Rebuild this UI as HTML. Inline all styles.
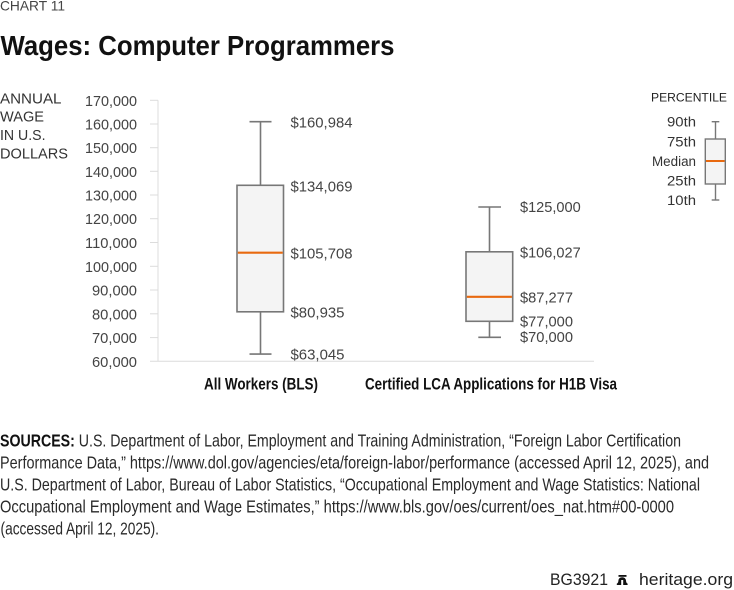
<!DOCTYPE html>
<html>
<head>
<meta charset="utf-8">
<style>
  html,body{margin:0;padding:0;background:#fff;}
  body{width:734px;height:590px;overflow:hidden;}
  svg{display:block;}
  text{font-family:"Liberation Sans",sans-serif;}
</style>
</head>
<body>
<svg width="734" height="590" viewBox="0 0 734 590" xmlns="http://www.w3.org/2000/svg">
  <!-- Header -->
  <text x="0" y="10.3" font-size="14" fill="#444" textLength="65" lengthAdjust="spacingAndGlyphs">CHART 11</text>
  <text x="0.5" y="55" font-size="27.5" font-weight="bold" fill="#111" textLength="394" lengthAdjust="spacingAndGlyphs">Wages: Computer Programmers</text>

  <!-- Y axis title -->
  <g font-size="15" fill="#333">
    <text x="0" y="103.3" textLength="61.5" lengthAdjust="spacingAndGlyphs">ANNUAL</text>
    <text x="0" y="121.7" textLength="44" lengthAdjust="spacingAndGlyphs">WAGE</text>
    <text x="0" y="140" textLength="45.5" lengthAdjust="spacingAndGlyphs">IN U.S.</text>
    <text x="0" y="158.3" textLength="68" lengthAdjust="spacingAndGlyphs">DOLLARS</text>
  </g>

  <!-- Axis -->
  <g stroke="#dcdcdc" stroke-width="1" fill="none">
    <line x1="158" y1="100.3" x2="158" y2="361.3"/>
    <line x1="150" y1="361.3" x2="594" y2="361.3"/>
    <line x1="150" y1="100.3" x2="158" y2="100.3"/>
    <line x1="150" y1="124" x2="158" y2="124"/>
    <line x1="150" y1="147.7" x2="158" y2="147.7"/>
    <line x1="150" y1="171.3" x2="158" y2="171.3"/>
    <line x1="150" y1="195" x2="158" y2="195"/>
    <line x1="150" y1="218.7" x2="158" y2="218.7"/>
    <line x1="150" y1="242.5" x2="158" y2="242.5"/>
    <line x1="150" y1="266.3" x2="158" y2="266.3"/>
    <line x1="150" y1="290" x2="158" y2="290"/>
    <line x1="150" y1="313.8" x2="158" y2="313.8"/>
    <line x1="150" y1="337.6" x2="158" y2="337.6"/>
  </g>

  <!-- Tick labels -->
  <g font-size="15" fill="#444" text-anchor="end">
    <text x="137" y="105.8" textLength="52" lengthAdjust="spacingAndGlyphs">170,000</text>
    <text x="137" y="129.5" textLength="52" lengthAdjust="spacingAndGlyphs">160,000</text>
    <text x="137" y="153.2" textLength="52" lengthAdjust="spacingAndGlyphs">150,000</text>
    <text x="137" y="176.8" textLength="52" lengthAdjust="spacingAndGlyphs">140,000</text>
    <text x="137" y="200.5" textLength="52" lengthAdjust="spacingAndGlyphs">130,000</text>
    <text x="137" y="224.2" textLength="52" lengthAdjust="spacingAndGlyphs">120,000</text>
    <text x="137" y="248" textLength="52" lengthAdjust="spacingAndGlyphs">110,000</text>
    <text x="137" y="271.8" textLength="52" lengthAdjust="spacingAndGlyphs">100,000</text>
    <text x="137" y="295.5" textLength="45" lengthAdjust="spacingAndGlyphs">90,000</text>
    <text x="137" y="319.3" textLength="45" lengthAdjust="spacingAndGlyphs">80,000</text>
    <text x="137" y="343.1" textLength="45" lengthAdjust="spacingAndGlyphs">70,000</text>
    <text x="137" y="366.8" textLength="45" lengthAdjust="spacingAndGlyphs">60,000</text>
  </g>

  <!-- Box 1: All Workers -->
  <g stroke="#777" stroke-width="1.6" fill="none">
    <line x1="260.5" y1="121.7" x2="260.5" y2="185.3"/>
    <line x1="260.5" y1="311.8" x2="260.5" y2="354.1"/>
    <line x1="249.5" y1="121.7" x2="271.5" y2="121.7"/>
    <line x1="249.5" y1="354.1" x2="271.5" y2="354.1"/>
    <rect x="237" y="185.3" width="46.5" height="126.5" fill="#f4f4f4"/>
  </g>
  <line x1="237.8" y1="252.7" x2="282.7" y2="252.7" stroke="#e8690f" stroke-width="2.2"/>

  <!-- Box 2: LCA -->
  <g stroke="#777" stroke-width="1.6" fill="none">
    <line x1="489.5" y1="207" x2="489.5" y2="251.8"/>
    <line x1="489.5" y1="321.3" x2="489.5" y2="337.3"/>
    <line x1="478.3" y1="207" x2="501" y2="207"/>
    <line x1="478.3" y1="337.3" x2="501" y2="337.3"/>
    <rect x="466" y="251.8" width="46.7" height="69.5" fill="#f4f4f4"/>
  </g>
  <line x1="466.8" y1="296.8" x2="511.9" y2="296.8" stroke="#e8690f" stroke-width="2.2"/>

  <!-- Value labels -->
  <g font-size="15" fill="#444">
    <text x="290.5" y="127.5" textLength="62" lengthAdjust="spacingAndGlyphs">$160,984</text>
    <text x="290.5" y="191.5" textLength="62" lengthAdjust="spacingAndGlyphs">$134,069</text>
    <text x="290.5" y="258.5" textLength="62" lengthAdjust="spacingAndGlyphs">$105,708</text>
    <text x="290.5" y="317.5" textLength="54" lengthAdjust="spacingAndGlyphs">$80,935</text>
    <text x="290.5" y="359.5" textLength="54" lengthAdjust="spacingAndGlyphs">$63,045</text>

    <text x="520" y="212.2" textLength="60.7" lengthAdjust="spacingAndGlyphs">$125,000</text>
    <text x="520" y="257.5" textLength="60.7" lengthAdjust="spacingAndGlyphs">$106,027</text>
    <text x="520" y="302.6" textLength="53" lengthAdjust="spacingAndGlyphs">$87,277</text>
    <text x="520" y="326.7" textLength="53" lengthAdjust="spacingAndGlyphs">$77,000</text>
    <text x="520" y="342.2" textLength="53" lengthAdjust="spacingAndGlyphs">$70,000</text>
  </g>

  <!-- Category labels -->
  <g font-size="16.5" font-weight="bold" fill="#111">
    <text x="204" y="389.5" textLength="114" lengthAdjust="spacingAndGlyphs">All Workers (BLS)</text>
    <text x="365" y="389.5" textLength="252" lengthAdjust="spacingAndGlyphs">Certified LCA Applications for H1B Visa</text>
  </g>

  <!-- Legend -->
  <text x="651" y="101.7" font-size="12" fill="#222" textLength="76" lengthAdjust="spacingAndGlyphs">PERCENTILE</text>
  <g font-size="13.5" fill="#333" text-anchor="end">
    <text x="696" y="126.7" textLength="29" lengthAdjust="spacingAndGlyphs">90th</text>
    <text x="696" y="146.7" textLength="29" lengthAdjust="spacingAndGlyphs">75th</text>
    <text x="696" y="166" textLength="44" lengthAdjust="spacingAndGlyphs">Median</text>
    <text x="696" y="185.3" textLength="29" lengthAdjust="spacingAndGlyphs">25th</text>
    <text x="696" y="205" textLength="29" lengthAdjust="spacingAndGlyphs">10th</text>
  </g>
  <g stroke="#777" stroke-width="1.4" fill="none">
    <line x1="715.5" y1="121.7" x2="715.5" y2="139"/>
    <line x1="715.5" y1="184" x2="715.5" y2="200"/>
    <line x1="711.7" y1="121.7" x2="719.3" y2="121.7"/>
    <line x1="711.7" y1="200" x2="719.3" y2="200"/>
    <rect x="705.3" y="139" width="20" height="45" fill="#f4f4f4"/>
  </g>
  <line x1="706" y1="161" x2="724.6" y2="161" stroke="#e8690f" stroke-width="2"/>

  <!-- Sources -->
  <g font-size="17.5" fill="#2a2a2a">
    <text x="0" y="446.5" textLength="681" lengthAdjust="spacingAndGlyphs"><tspan font-weight="bold" fill="#111">SOURCES:</tspan> U.S. Department of Labor, Employment and Training Administration, “Foreign Labor Certification</text>
    <text x="0" y="468.5" textLength="709" lengthAdjust="spacingAndGlyphs">Performance Data,” https://www.dol.gov/agencies/eta/foreign-labor/performance (accessed April 12, 2025), and</text>
    <text x="0" y="490.5" textLength="700" lengthAdjust="spacingAndGlyphs">U.S. Department of Labor, Bureau of Labor Statistics, “Occupational Employment and Wage Statistics: National</text>
    <text x="0" y="512.5" textLength="674" lengthAdjust="spacingAndGlyphs">Occupational Employment and Wage Estimates,” https://www.bls.gov/oes/current/oes_nat.htm#00-0000</text>
    <text x="0.5" y="534.5" textLength="158.5" lengthAdjust="spacingAndGlyphs">(accessed April 12, 2025).</text>
  </g>

  <!-- Footer -->
  <text x="550" y="585" font-size="16.5" fill="#222" textLength="58" lengthAdjust="spacingAndGlyphs">BG3921</text>
  <g fill="#111">
    <rect x="618.5" y="575" width="8" height="1.8"/>
    <path d="M616.8 585 L616.8 583.6 Q618.2 583.2 618.4 580.8 Q618.7 577.2 622.2 577.2 Q625.7 577.2 626 580.8 Q626.2 583.2 627.6 583.6 L627.6 585 Z"/>
  </g>
  <rect x="621.2" y="580" width="2" height="5" fill="#fff"/>
  <text x="639" y="585" font-size="17" fill="#222" textLength="94" lengthAdjust="spacingAndGlyphs">heritage.org</text>
</svg>
</body>
</html>
